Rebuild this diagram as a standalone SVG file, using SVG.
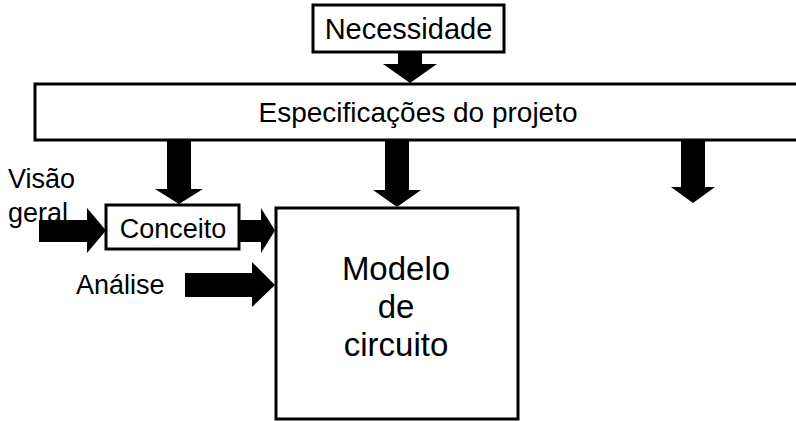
<svg xmlns="http://www.w3.org/2000/svg" width="796" height="421" viewBox="0 0 796 421">
<style>
.box{fill:#fff;stroke:#000;stroke-width:3}
.t{font-family:"Liberation Sans",Arial,sans-serif;fill:#000}
.arr{fill:#000;stroke:none}
</style>
<rect width="796" height="421" fill="#fff"/>
<g id="necessidade">
<rect class="box" x="313" y="5" width="191" height="47"/>
<text class="t" x="408.5" y="39" font-size="29" text-anchor="middle">Necessidade</text>
</g>
<g id="especificacoes">
<rect class="box" x="35" y="84" width="770" height="56"/>
<text class="t" x="418" y="122" font-size="28" text-anchor="middle">Especificações do projeto</text>
</g>
<g id="conceito">
<rect class="box" x="106" y="205" width="133" height="44"/>
<text class="t" x="173" y="238" font-size="27" text-anchor="middle">Conceito</text>
</g>
<g id="modelo">
<rect class="box" x="276" y="208" width="242" height="211"/>
<text class="t" font-size="33" text-anchor="middle"><tspan x="396" y="280">Modelo</tspan><tspan x="396" y="318">de</tspan><tspan x="396" y="356">circuito</tspan></text>
</g>
<g id="visao-geral">
<text class="t" font-size="27"><tspan x="8" y="188">Visão</tspan><tspan x="8" y="222">geral</tspan></text>
</g>
<g id="analise">
<text class="t" x="76" y="294" font-size="27">Análise</text>
</g>
<g id="connectors">
<polygon class="arr" points="398,52 422,52 422,64 437,64 410,83 383,64 398,64"/>
<polygon class="arr" points="167,141 191,141 191,189 203,189 179,204 155,189 167,189"/>
<polygon class="arr" points="385,141 409,141 409,190 421,190 397,207 373,190 385,190"/>
<polygon class="arr" points="681,141 705,141 705,187 715,187 693,203 671,187 681,187"/>
<polygon class="arr" points="39,220 87,220 87,208 106,230.5 87,253 87,242 39,242"/>
<polygon class="arr" points="240,220 261,220 261,208 275,230.5 261,253 261,242 240,242"/>
<polygon class="arr" points="185,273 252,273 252,262 275,285 252,307 252,297 185,297"/>
</g>
</svg>
